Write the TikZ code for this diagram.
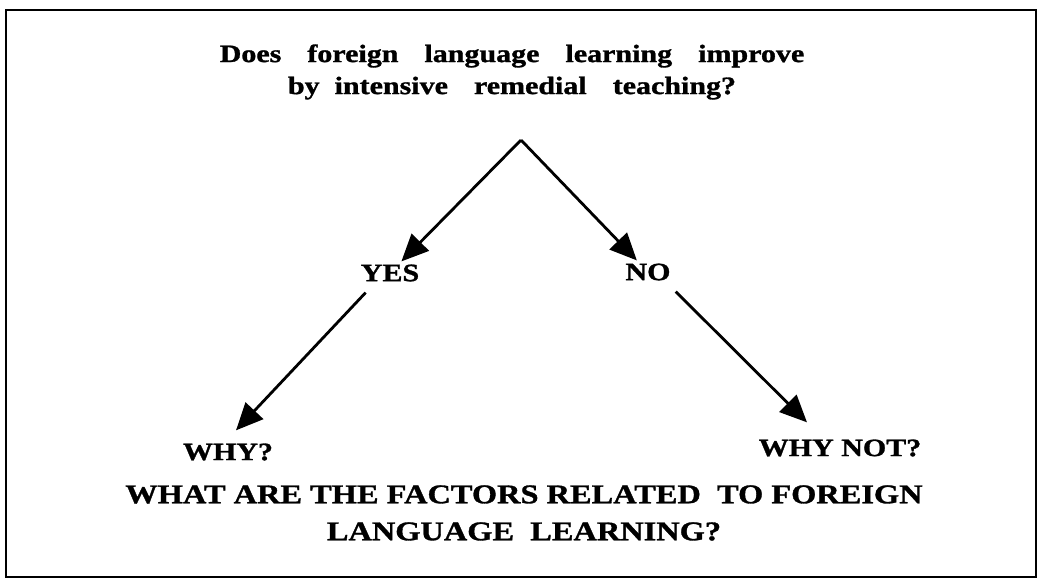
\documentclass[tikz,border=0pt]{standalone}
\usepackage{fontspec}
\setmainfont{Liberation Serif}[BoldFeatures={FakeStretch=1.2,FakeBold=1.2}]
\usetikzlibrary{arrows.meta,calc}
\newcommand{\wgap}[1]{\hspace*{#1pt}}
\begin{document}
\begin{tikzpicture}[x=1pt,y=-1pt,
  lbl/.style={font=\bfseries\fontsize{25}{27}\selectfont, inner sep=3pt, align=center},
  caps/.style={font=\bfseries\fontsize{27}{37}\selectfont, inner sep=3pt, align=center},
  conn/.style={line width=2.8pt, -{Triangle[length=27pt,width=24pt]}}]
  \useasboundingbox (0,0) rectangle (1039,582);
  % frame
  \draw[line width=2.4pt] (6,10) rectangle (1036,577);
  % question
  \node[lbl, font=\bfseries\fontsize{25}{32}\selectfont] (q) at (512,72)
    {Does\wgap{26}foreign\wgap{26}language\wgap{26}learning\wgap{26}improve\\
     by\wgap{15}intensive\wgap{26}remedial\wgap{26}teaching?};
  \coordinate (apex) at (521,140);
  \node[lbl] (yes) at (390,273) {YES};
  \node[lbl] (no) at (648,272) {NO};
  \node[lbl] (why) at (228,452) {WHY?};
  \node[lbl] (whynot) at (840,448) {WHY NOT?};
  \node[caps] (fac) at (524,513)
    {WHAT ARE THE FACTORS RELATED \ TO FOREIGN\\LANGUAGE \ LEARNING?};
  % connectors
  \draw[conn] (apex) -- (yes);
  \draw[conn] (apex) -- (no);
  \draw[conn] ($(yes.south west)+(8,8)$) -- ($(why.north)+(8,-10)$);
  \draw[conn] ($(no.south east)+(2,8)$) -- ($(whynot.north)+(-33,-14)$);
\end{tikzpicture}
\end{document}
